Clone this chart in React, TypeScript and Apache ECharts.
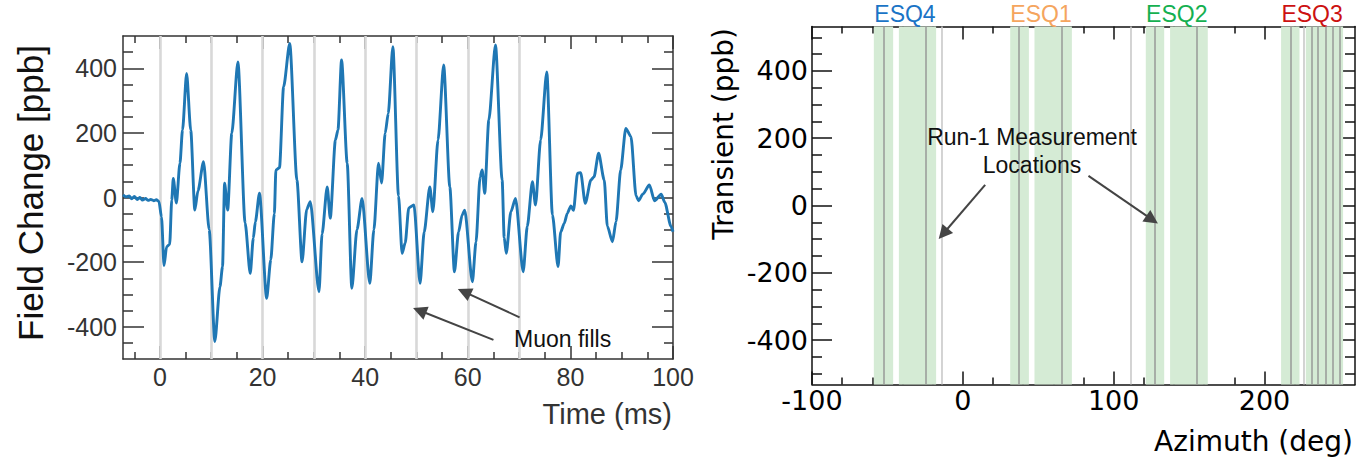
import React, { useEffect, useRef } from "react";
import * as echarts from "echarts";

// ---------- Left panel: field change vs time ----------
const timeMs = [
  -7.2, -6.6, -6.0, -5.5, -5.0, -4.4, -3.9, -3.4, -2.8, -2.3,
  -1.8, -1.2, -0.7, -0.2, 0.3, 0.8, 1.3, 1.9, 2.3, 2.6,
  3.2, 3.9, 4.4, 5.2, 6.0, 6.8, 7.4, 8.5, 9.6, 10.7,
  11.7, 12.2, 12.6, 13.2, 14.0, 15.2, 16.6, 17.6, 18.2, 18.6,
  19.4, 20.8, 21.6, 22.3, 22.6, 23.3, 24.1, 25.3, 26.7, 27.7,
  28.6, 29.3, 31.0, 31.6, 32.6, 33.2, 34.2, 34.7, 35.4, 36.5,
  37.4, 38.4, 39.4, 40.9, 41.7, 42.6, 43.2, 43.9, 44.5, 45.4,
  46.5, 47.2, 47.8, 48.5, 49.5, 50.7, 51.5, 52.6, 53.2, 54.2,
  55.3, 56.5, 57.4, 58.2, 58.9, 59.4, 60.9, 61.6, 62.4, 62.8,
  63.3, 64.1, 65.4, 66.7, 67.1, 67.5, 68.4, 69.3, 70.8, 71.6,
  72.6, 73.2, 74.2, 75.4, 76.5, 77.6, 78.1, 78.8, 79.4, 80.1,
  80.6, 81.4, 82.0, 82.9, 84.0, 84.6, 85.5, 86.6, 87.2, 88.2,
  88.9, 89.8, 90.8, 91.8, 92.8, 93.3, 94.1, 95.4, 96.4, 97.7,
  98.4, 99.6, 100,
];
const fieldPpb = [
  8, 2, 5, -4, 3, -6, 0, -8, -3, -9,
  -6, -10, -7, -12, -60, -211, -152, -145, -8, 59,
  -17, 106, 209, 384, 209, -39, 20, 111, -100, -446,
  -276, -214, 44, -39, 199, 420, -79, -235, -126, -75,
  13, -312, -193, -50, 85, 92, 343, 477, 54, -199,
  -37, -13, -292, -113, 33, -64, 178, 209, 426, 106,
  -281, -100, -3, -266, -100, 106, 45, 199, 260, 467,
  5, -173, -141, -32, -23, -266, -107, 33, -44, 178,
  410, 33, -230, -107, -54, -39, -261, -138, 64, 85,
  13, 240, 472, 54, -124, -173, -44, -3, -230, -89,
  49, -23, 178, 389, -54, -214, -107, -80, -49, -26,
  -40, 75, 77, -18, 54, 64, 137, 54, -89, -137,
  -74, 85, 214, 189, 5, -10, 10, 39, -10, 10,
  -15, -89, -106,
];
const muonFills = [0, 10, 20, 30, 40, 50, 60, 70];
const leftXMajor = [0, 20, 40, 60, 80, 100];
const leftXMinor = [-5, 5, 10, 15, 25, 30, 35, 45, 50, 55, 65, 70, 75, 85, 90, 95];
const leftYMajor = [-400, -200, 0, 200, 400];
const leftYMinor = [-450, -350, -300, -250, -150, -100, -50, 50, 100, 150, 250, 300, 350, 450];
// arrows: [tailX, tailY, tipX, tipY] in data units
const leftArrows = [
  [65.0, -441, 50.6, -350],
  [70.1, -371, 59.3, -292],
];

// ---------- Right panel: azimuth ----------
const rightXMajor = [-100, 0, 100, 200];
const rightXMinor = [-80, -60, -40, -20, 20, 40, 60, 80, 120, 140, 160, 180, 220, 240];
const rightYMajor = [-400, -200, 0, 200, 400];
const rightYMinor = [-500, -450, -350, -300, -250, -150, -100, -50, 50, 100, 150, 250, 300, 350, 450, 500];
const esqNames = ["ESQ4", "ESQ1", "ESQ2", "ESQ3"];
const esqStart = [-59.0, 31.4, 121.3, 211.0];
const esqEnd = [-17.7, 72.3, 162.4, 252.1];
const plateStart = [-59.0, -42.4, 31.4, 47.5, 121.3, 137.4, 211.0, 227.4];
const plateEnd = [-46.2, -17.7, 43.8, 72.3, 133.5, 162.4, 223.2, 252.1];
const probeAzimuth = [-52.6, -24.5, 37.3, 65.4, 127.3, 155.2, 217.2, 231.2, 235.3, 240.8, 245.4, 250.0];
const run1Azimuth = [-14.2, 111.6, 226.1];
const rightArrows = [
  [14.8, 61.5, -13.0, -84],
  [83.3, 88.2, 125.5, -42],
];

const ESQ_COLORS: Record<string, string> = {
  ESQ4: "#1a74c6",
  ESQ1: "#f5a55e",
  ESQ2: "#14b050",
  ESQ3: "#cc1111",
};

const LFONT = "'Liberation Sans', Arial, sans-serif";
const DFONT = "'DejaVu Sans', sans-serif";

function mkAxis(opts: {
  gridIndex: number;
  min: number;
  max: number;
  position: string;
  ticks: number[];
  tickLen: number;
  showLine: boolean;
  color: string;
  labels?: { values: number[]; style: any };
}) {
  return {
    type: "value",
    gridIndex: opts.gridIndex,
    min: opts.min,
    max: opts.max,
    position: opts.position,
    axisLine: { show: opts.showLine, onZero: false, lineStyle: { color: opts.color, width: 1.5 } },
    axisTick: {
      show: true,
      inside: true,
      length: opts.tickLen,
      customValues: opts.ticks,
      lineStyle: { color: opts.color, width: 1.5 },
    },
    axisLabel: opts.labels
      ? { show: true, customValues: opts.labels.values, ...opts.labels.style }
      : { show: false },
    splitLine: { show: false },
    minorTick: { show: false },
    minorSplitLine: { show: false },
  };
}

function buildOption() {
  const LC = "#333333";
  const RC = "#111111";
  const lxMin = -7.2, lxMax = 100, lyMin = -500, lyMax = 500;
  const rxMin = -100, rxMax = 260, ryMin = -532, ryMax = 532;

  const leftTickLabel = { fontFamily: LFONT, fontSize: 25, color: LC };
  const rightTickLabel = { fontFamily: DFONT, fontSize: 27, color: "#000" };

  const xAxis = [
    mkAxis({ gridIndex: 0, min: lxMin, max: lxMax, position: "bottom", ticks: leftXMajor, tickLen: 13, showLine: true, color: LC, labels: { values: leftXMajor, style: { ...leftTickLabel, margin: 5 } } }),
    mkAxis({ gridIndex: 0, min: lxMin, max: lxMax, position: "bottom", ticks: leftXMinor, tickLen: 7, showLine: false, color: LC }),
    mkAxis({ gridIndex: 0, min: lxMin, max: lxMax, position: "top", ticks: leftXMajor, tickLen: 13, showLine: true, color: LC }),
    mkAxis({ gridIndex: 0, min: lxMin, max: lxMax, position: "top", ticks: leftXMinor, tickLen: 7, showLine: false, color: LC }),
    mkAxis({ gridIndex: 1, min: rxMin, max: rxMax, position: "bottom", ticks: rightXMajor, tickLen: 13, showLine: true, color: RC, labels: { values: rightXMajor, style: { ...rightTickLabel, margin: 2 } } }),
    mkAxis({ gridIndex: 1, min: rxMin, max: rxMax, position: "bottom", ticks: rightXMinor, tickLen: 7, showLine: false, color: RC }),
    mkAxis({ gridIndex: 1, min: rxMin, max: rxMax, position: "top", ticks: rightXMajor, tickLen: 13, showLine: true, color: RC }),
    mkAxis({ gridIndex: 1, min: rxMin, max: rxMax, position: "top", ticks: rightXMinor, tickLen: 7, showLine: false, color: RC }),
  ];
  const yAxis = [
    mkAxis({ gridIndex: 0, min: lyMin, max: lyMax, position: "left", ticks: leftYMajor, tickLen: 21, showLine: true, color: LC, labels: { values: leftYMajor, style: { ...leftTickLabel, margin: 6 } } }),
    mkAxis({ gridIndex: 0, min: lyMin, max: lyMax, position: "left", ticks: leftYMinor, tickLen: 10, showLine: false, color: LC }),
    mkAxis({ gridIndex: 0, min: lyMin, max: lyMax, position: "right", ticks: leftYMajor, tickLen: 21, showLine: true, color: LC }),
    mkAxis({ gridIndex: 0, min: lyMin, max: lyMax, position: "right", ticks: leftYMinor, tickLen: 9, showLine: false, color: LC }),
    mkAxis({ gridIndex: 1, min: ryMin, max: ryMax, position: "left", ticks: rightYMajor, tickLen: 20, showLine: true, color: RC, labels: { values: rightYMajor, style: { ...rightTickLabel, margin: 4 } } }),
    mkAxis({ gridIndex: 1, min: ryMin, max: ryMax, position: "left", ticks: rightYMinor, tickLen: 10, showLine: false, color: RC }),
    mkAxis({ gridIndex: 1, min: ryMin, max: ryMax, position: "right", ticks: rightYMajor, tickLen: 20, showLine: true, color: RC }),
    mkAxis({ gridIndex: 1, min: ryMin, max: ryMax, position: "right", ticks: rightYMinor, tickLen: 10, showLine: false, color: RC }),
  ];

  const arrowData = (arr: number[][]) =>
    arr.map((a) => [
      { coord: [a[0], a[1]], symbol: "none" },
      { coord: [a[2], a[3]], symbol: "triangle", symbolSize: 14 },
    ]);

  const series: any[] = [
    // muon fill markers (behind curve)
    {
      type: "line",
      xAxisIndex: 0,
      yAxisIndex: 0,
      data: [],
      z: 1,
      markLine: {
        silent: true,
        z: 1,
        symbol: ["none", "none"],
        label: { show: false },
        lineStyle: { color: "#d8d8d8", width: 2.6, type: "solid" },
        data: muonFills.map((x) => ({ xAxis: x })),
      },
    },
    {
      type: "line",
      name: "Field Change",
      xAxisIndex: 0,
      yAxisIndex: 0,
      z: 3,
      data: timeMs.map((t, i) => [t, fieldPpb[i]]),
      showSymbol: false,
      symbol: "none",
      smooth: 0.25,
      smoothMonotone: "x",
      lineStyle: { color: "#1f77b4", width: 2.9 },
    },
    {
      type: "line",
      xAxisIndex: 0,
      yAxisIndex: 0,
      data: [],
      markLine: {
        silent: true,
        z: 6,
        label: { show: false },
        lineStyle: { color: "#444", width: 2, type: "solid" },
        itemStyle: { color: "#444" },
        data: arrowData(leftArrows),
      },
    },
    // right: quad plate spans
    {
      type: "line",
      xAxisIndex: 4,
      yAxisIndex: 4,
      data: [],
      markArea: {
        silent: true,
        z: 1,
        itemStyle: { color: "#d5ebd5" },
        data: plateStart.map((s, i) => [{ xAxis: s }, { xAxis: plateEnd[i] }]),
      },
    },
    // ESQ labels
    {
      type: "line",
      xAxisIndex: 4,
      yAxisIndex: 4,
      data: [],
      markArea: {
        silent: true,
        z: 1,
        itemStyle: { color: "rgba(0,0,0,0)" },
        label: { show: true, position: "top", distance: 1, fontFamily: LFONT, fontSize: 23, formatter: "{b}" },
        data: esqNames.map((n, i) => [
          { name: n, xAxis: esqStart[i], label: { color: ESQ_COLORS[n] } },
          { xAxis: esqEnd[i] },
        ]),
      },
    },
    {
      type: "line",
      xAxisIndex: 4,
      yAxisIndex: 4,
      data: [],
      markLine: {
        silent: true,
        z: 3,
        symbol: ["none", "none"],
        label: { show: false },
        lineStyle: { color: "#9b9f9b", width: 1.6, type: "solid" },
        data: probeAzimuth.map((x) => ({ xAxis: x })),
      },
    },
    {
      type: "line",
      xAxisIndex: 4,
      yAxisIndex: 4,
      data: [],
      markLine: {
        silent: true,
        z: 3,
        symbol: ["none", "none"],
        label: { show: false },
        lineStyle: { color: "#c9c9c9", width: 1.6, type: "solid" },
        data: run1Azimuth.map((x) => ({ xAxis: x })),
      },
    },
    {
      type: "line",
      xAxisIndex: 4,
      yAxisIndex: 4,
      data: [],
      markLine: {
        silent: true,
        z: 6,
        label: { show: false },
        lineStyle: { color: "#444", width: 2, type: "solid" },
        itemStyle: { color: "#444" },
        data: arrowData(rightArrows),
      },
    },
  ];

  const graphic = [
    {
      type: "text",
      z: 100,
      x: 30,
      y: 193,
      rotation: Math.PI / 2,
      style: { text: "Field Change [ppb]", fill: "#111", font: `35px ${LFONT}`, align: "center", verticalAlign: "middle" },
    },
    {
      type: "text",
      z: 100,
      x: 672,
      y: 414,
      style: { text: "Time (ms)", fill: LC, font: `29px ${LFONT}`, align: "right", verticalAlign: "middle" },
    },
    {
      type: "text",
      z: 100,
      x: 514,
      y: 339,
      style: { text: "Muon fills", fill: "#111", font: `23px ${LFONT}`, align: "left", verticalAlign: "middle" },
    },
    {
      type: "text",
      z: 100,
      x: 723,
      y: 28,
      rotation: Math.PI / 2,
      style: { text: "Transient (ppb)", fill: "#000", font: `28px ${DFONT}`, align: "right", verticalAlign: "middle" },
    },
    {
      type: "text",
      z: 100,
      x: 1353,
      y: 441,
      style: { text: "Azimuth (deg)", fill: "#000", font: `28px ${DFONT}`, align: "right", verticalAlign: "middle" },
    },
    {
      type: "text",
      z: 100,
      x: 1032,
      y: 137,
      style: { text: "Run-1 Measurement", fill: "#111", font: `23px ${LFONT}`, align: "center", verticalAlign: "middle" },
    },
    {
      type: "text",
      z: 100,
      x: 1032,
      y: 165,
      style: { text: "Locations", fill: "#111", font: `23px ${LFONT}`, align: "center", verticalAlign: "middle" },
    },
  ];

  return {
    animation: false,
    backgroundColor: "#ffffff",
    grid: [
      { left: 123, top: 36, width: 550, height: 323 },
      { left: 812, top: 26.5, width: 543, height: 358 },
    ],
    xAxis,
    yAxis,
    series,
    graphic,
  };
}

export default function App() {
  const ref = useRef<HTMLDivElement>(null);
  useEffect(() => {
    if (!ref.current) return;
    const chart = echarts.init(ref.current, null, { renderer: "svg" });
    chart.setOption(buildOption() as any);
    return () => chart.dispose();
  }, []);
  return (
    <div
      ref={ref}
      style={{ position: "fixed", left: 0, top: 0, width: 1358, height: 459, background: "#fff" }}
    />
  );
}
